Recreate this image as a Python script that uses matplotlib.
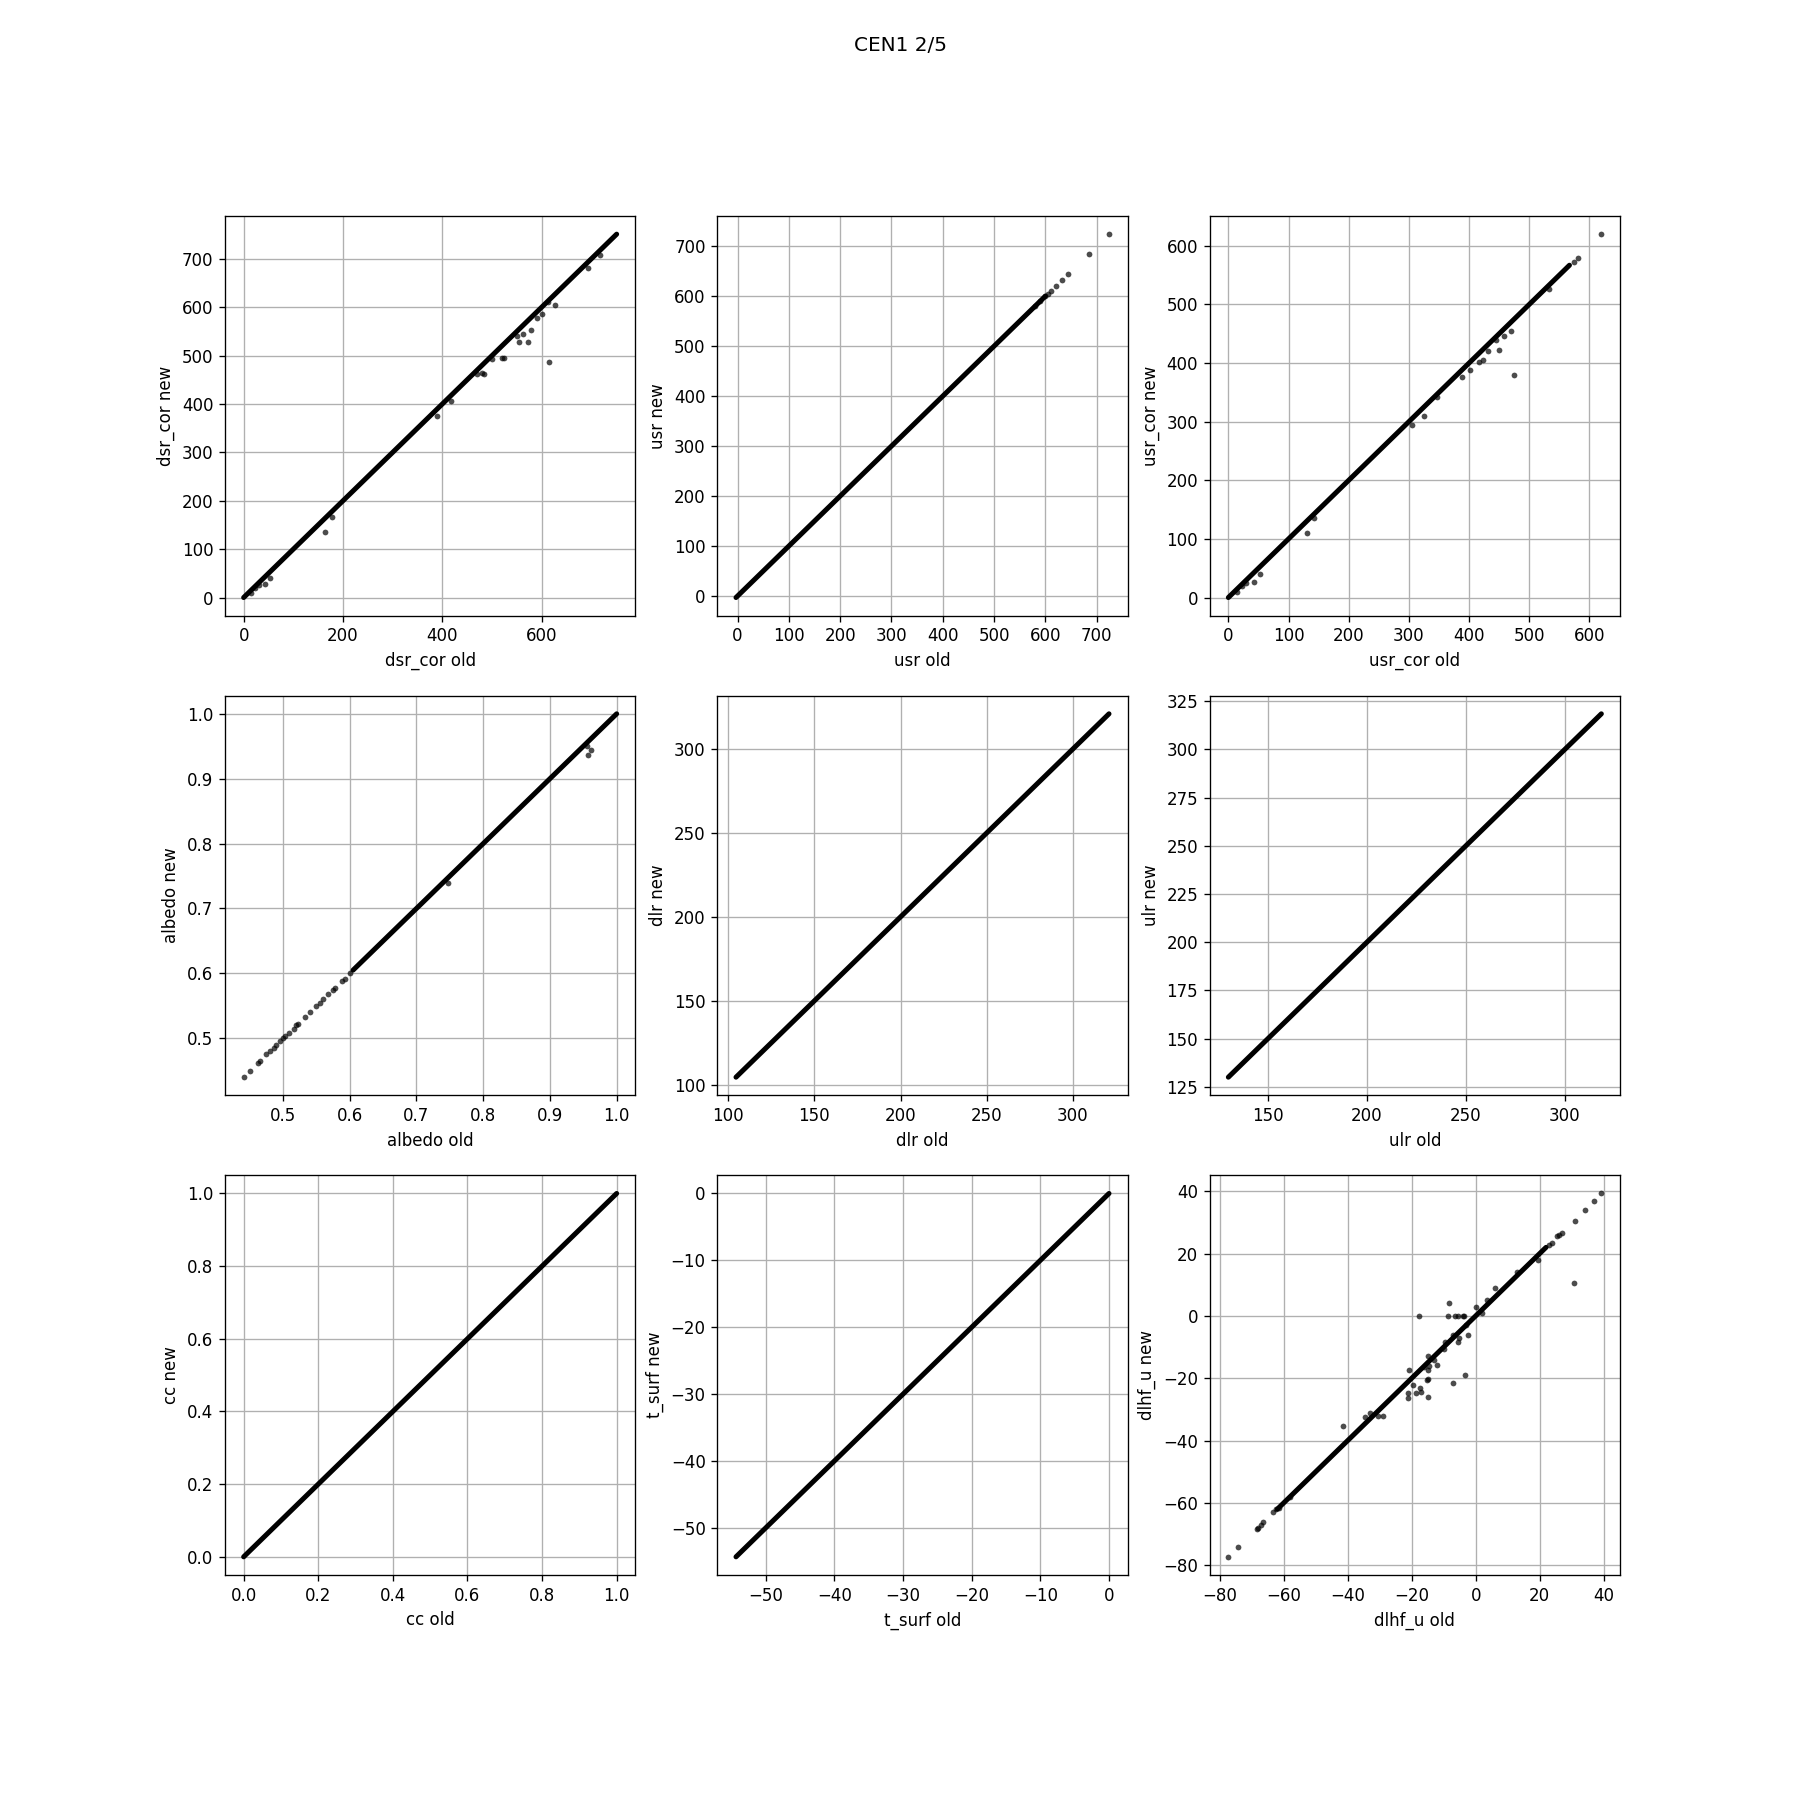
import matplotlib
matplotlib.use('Agg')
import matplotlib.pyplot as plt

# variable names (x label = "<var> old", y label = "<var> new")
variaveis = ['dsr_cor', 'usr', 'usr_cor', 'albedo', 'dlr', 'ulr', 'cc', 't_surf', 'dlhf_u']

# range of the dense band of points on the 1:1 line (old == new)
faixa_inicio = [0, -3, 0, 0.605, 104.5, 130, 0, -54.3, -62]
faixa_fim = [751, 600, 567, 1.0, 321, 318.5, 1.0, 0, 22]

# scattered points that stand out from the band (old, new)
dsr_old = [15, 22, 30, 43, 53, 163, 178, 390, 418, 470, 480, 484, 500, 520, 525, 550, 555,
           562, 573, 578, 590, 600, 615, 627, 612, 693, 718]
dsr_new = [10, 20, 25, 28, 40, 135, 166, 375, 407, 463, 465, 462, 492, 495, 495, 540, 528,
           545, 528, 553, 578, 585, 487, 604, 610, 681, 708]

usr_old = [580, 590, 600, 605, 610, 620, 632, 644, 685, 724]
usr_new = [580, 590, 600, 605, 610, 620, 632, 644, 685, 724]

usrc_old = [15, 22, 30, 43, 53, 130, 143, 306, 326, 347, 388, 402, 416, 423, 432, 445, 450,
            458, 470, 475, 533, 575, 582, 620]
usrc_new = [10, 20, 25, 27, 40, 110, 135, 295, 310, 342, 376, 388, 402, 405, 420, 440, 422,
            446, 455, 380, 527, 573, 580, 620]

alb_old = [0.441, 0.451, 0.463, 0.466, 0.475, 0.481, 0.486, 0.49, 0.495, 0.5, 0.503, 0.509,
           0.516, 0.52, 0.523, 0.533, 0.54, 0.55, 0.555, 0.56, 0.568, 0.575, 0.578, 0.588,
           0.593, 0.6, 0.748, 0.957, 0.961, 0.955]
alb_new = [0.44, 0.45, 0.462, 0.465, 0.475, 0.48, 0.485, 0.49, 0.495, 0.5, 0.503, 0.508,
           0.515, 0.52, 0.522, 0.532, 0.54, 0.55, 0.555, 0.56, 0.568, 0.575, 0.578, 0.589,
           0.592, 0.6, 0.74, 0.937, 0.945, 0.95]

dlhf_old = [-77.3, -74.3, -68.5, -68, -67, -66.5, -63.5, -62.5, -61.5, -58, 23, 24, 25.5, 26,
            27, 31, 34.3, 37, 39.3, 30.8, 19.5, -17.7, -8.5, -8.3, -6.5, -5.5, -4, -3.5, -3,
            -2.5, -5.2, -5.5, -7, -9.5, -10, -13, -15, -12, -14.5, -15, -16, -14.8, -15.2,
            -20.7, -19.5, -17.5, -17.2, -18.5, -21, -21.2, -14.8, -7, -3.2, -41.5, -34.7, -33,
            -29, -30.5, 6, 0, 3.5, 13, 2]
dlhf_new = [-77.3, -74, -68.5, -68, -67, -66, -63, -62, -61.5, -58, 22.8, 23.5, 25.5, 26,
            26.5, 30.5, 34.1, 36.8, 39.3, 10.7, 18, 0, 0, 4, 0, 0, 0, 0, -3, -6, -7, -8.5, -6,
            -8.5, -10.5, -14, -13, -15.6, -16, -17.5, -16.3, -20.3, -20.5, -17.3, -22.2, -23,
            -24.3, -24.8, -24.7, -26.3, -26, -21.6, -19, -35.3, -32.5, -31, -32.1, -32, 9, 2.8,
            5, 14, 1]

pontos_old = [dsr_old, usr_old, usrc_old, alb_old, [], [], [], [], dlhf_old]
pontos_new = [dsr_new, usr_new, usrc_new, alb_new, [], [], [], [], dlhf_new]

fig, axs = plt.subplots(3, 3, figsize=(15, 15))
fig.subplots_adjust(bottom=0.125)

for i, ax in enumerate(axs.flat):
    nome = variaveis[i]
    # dense band of points along the 1:1 line
    ax.plot([faixa_inicio[i], faixa_fim[i]], [faixa_inicio[i], faixa_fim[i]],
            color='k', lw=3.0, solid_capstyle='round', zorder=2)
    if len(pontos_old[i]) > 0:
        ax.scatter(pontos_old[i], pontos_new[i], s=12, c='k', alpha=0.7, linewidths=0, zorder=3)
    ax.set_xlabel(nome + ' old')
    ax.set_ylabel(nome + ' new')
    ax.grid(True)

plt.suptitle('CEN1 2/5')
plt.savefig('out.png', dpi=120)
